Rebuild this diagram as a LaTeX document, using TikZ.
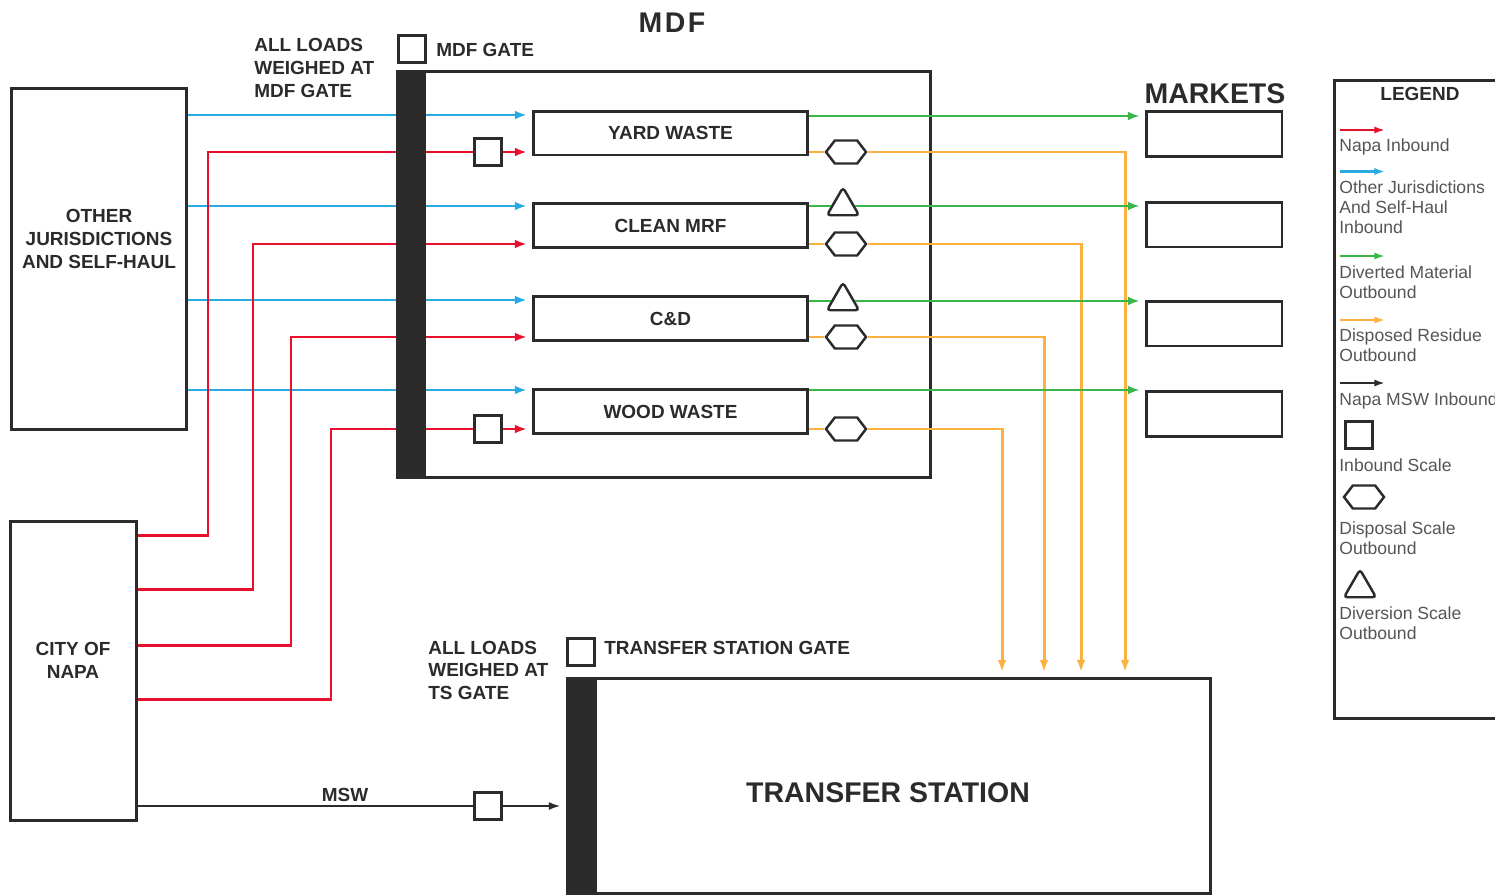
\documentclass[tikz,border=0pt]{standalone}
\usepackage{fontspec}
\setmainfont{Liberation Sans}
\usepackage{tikz}
\usetikzlibrary{arrows.meta,positioning,shapes.geometric,shapes.symbols}

\definecolor{ink}{HTML}{2B2B2B}
\definecolor{napared}{HTML}{E8112D}
\definecolor{otherblue}{HTML}{29ABE2}
\definecolor{divgreen}{HTML}{39B54A}
\definecolor{resorange}{HTML}{FBB040}
\definecolor{keygray}{HTML}{555555}

\newcommand{\lblfont}{\fontsize{10.8}{13}\selectfont\bfseries}
\newcommand{\bigfont}{\fontsize{16.2}{19}\selectfont\bfseries}
\newcommand{\keyfont}{\fontsize{10}{11.5}\selectfont}

\begin{document}
\begin{tikzpicture}[
    x=0.02cm, y=-0.02cm,
    node distance=0.92cm and 0.5cm,
    area/.style={draw=ink, line width=1.7pt, inner sep=0pt},
    facility/.style={draw=ink, line width=1.7pt, fill=white, minimum width=5.5cm, minimum height=0.88cm, inner sep=0pt, font=\lblfont, text=ink},
    market/.style={draw=ink, line width=1.7pt, minimum width=2.72cm, minimum height=0.9cm, inner sep=0pt},
    inscale/.style={draw=ink, line width=1.5pt, fill=white, minimum size=0.54cm, inner sep=0pt},
    outscale/.style={draw=ink, line width=1.4pt, fill=white, signal, signal to=west and east, signal pointer angle=105, minimum width=0.8cm, minimum height=0.46cm, inner sep=0pt},
    divscale/.style={draw=ink, line width=1.4pt, fill=white, regular polygon, regular polygon sides=3, minimum size=0.74cm, inner sep=0pt, rounded corners=2pt},
    lbl/.style={font=\lblfont, text=ink, align=center, inner sep=0pt},
    title/.style={font=\bigfont, text=ink, inner sep=0pt},
    keytext/.style={font=\keyfont, text=keygray, align=left, anchor=north west, inner sep=0pt},
    flow/.style={line width=1.7pt},
    flowtip/.style={-{Latex[length=7pt,width=5pt]}, shorten >=2.5pt},
    napaflow/.style={flow, napared},
    othflow/.style={flow, otherblue},
    divflow/.style={flow, divgreen},
    resflow/.style={flow, resorange},
    mswflow/.style={line width=1.4pt, ink},
    keyarrow/.style={line width=1.5pt, -{Latex[length=6pt,width=4pt]}}
  ]
    \useasboundingbox (0,0) rectangle (1495,896);

    % sources
    \node[area, minimum width=3.52cm, minimum height=6.84cm] (oth) at (99,259) {};
    \node[lbl] (othtxt) at (99,239) {OTHER\\ JURISDICTIONS\\ AND SELF-HAUL};
    \node[area, minimum width=2.52cm, minimum height=5.98cm] (napa) at (73.5,671) {};
    \node[lbl] (napatxt) at (73,660) {CITY OF\\ NAPA};

    % MDF
    \node[title] (mdftitle) at (672,23) {M\kern1.4pt D\kern1.4pt F};
    \node[area, minimum width=10.68cm, minimum height=8.14cm] (mdf) at (664,274.5) {};
    \node[inscale] (mdfgate) at (412,49) {};
    \node[lbl, anchor=west] (mdfgatetxt) at (436,50) {MDF GATE};
    \node[lbl, align=left, anchor=north west] (mdfnote) at (254,38) {ALL LOADS\\ WEIGHED AT\\ MDF GATE};

    \node[facility] (yard) at (670.5,133) {YARD WASTE};
    \node[facility, below=of yard] (mrf) {CLEAN MRF};
    \node[facility, below=of mrf] (cd) {C\&D};
    \node[facility, below=of cd] (wood) {WOOD WASTE};

    \node[inscale] (sqyard) at (488,152) {};
    \node[inscale] (sqwood) at (488,429) {};
    \node[outscale] (hyard) at (846,152) {};
    \node[outscale] (hmrf) at (846,244) {};
    \node[outscale] (hcd) at (846,337) {};
    \node[outscale] (hwood) at (846,429) {};
    \node[divscale] (tmrf) at (843,206) {};
    \node[divscale] (tcd) at (843,301) {};

    % markets
    \node[title] (mkttitle) at (1215,94) {MARKETS};
    \node[market] (mkt1) at (1214,134) {};
    \node[market] (mkt2) at (1214,224.5) {};
    \node[market] (mkt3) at (1214,323.5) {};
    \node[market] (mkt4) at (1214,414) {};

    % transfer station
    \node[area, minimum width=12.88cm, minimum height=4.32cm] (ts) at (889,786) {};
    \node[title] (tstxt) at (888,793) {TRANSFER STATION};
    \node[inscale] (tsgate) at (581,652) {};
    \node[lbl, anchor=west] (tsgatetxt) at (604,648) {TRANSFER STATION GATE};
    \node[lbl, align=left, anchor=north west] (tsnote) at (428,640.5) {ALL LOADS\\ WEIGHED AT\\ TS GATE};
    \node[inscale] (sqmsw) at (488,806) {};
    \node[lbl] (msw) at (345,795) {MSW};

    % inbound
    \foreach \y/\fac in {115/yard, 206/mrf, 300/cd, 390/wood}
      \draw[othflow, flowtip] (oth.east |- 0,\y) -- (\fac.west |- 0,\y);
    \draw[napaflow] (napa.east |- 0,535) -| (208,152) -- (sqyard);
    \draw[napaflow, flowtip] (sqyard) -- (yard.west |- sqyard);
    \draw[napaflow, flowtip] (napa.east |- 0,589) -| (253,244) -- (mrf.west |- 0,244);
    \draw[napaflow, flowtip] (napa.east |- 0,645) -| (291,337) -- (cd.west |- 0,337);
    \draw[napaflow] (napa.east |- 0,699) -| (331,429) -- (sqwood);
    \draw[napaflow, flowtip] (sqwood) -- (wood.west |- sqwood);
    \draw[mswflow] (napa.east |- sqmsw) -- (sqmsw);
    \draw[mswflow, -{Latex[length=7pt,width=4.5pt]}, shorten >=2.5pt] (sqmsw) -- (ts.west |- sqmsw);

    % residue to transfer station
    \foreach \fac/\hx/\xv in {yard/hyard/1125, mrf/hmrf/1081, cd/hcd/1044, wood/hwood/1002} {
      \draw[resflow] (\fac.east |- \hx) -- (\hx);
      \draw[resflow, flowtip] (\hx) -| (ts.north -| \xv,0);
    }

    % diverted to markets
    \draw[divflow, flowtip] (yard.east |- 0,116) -- (mkt1.west |- 0,116);
    \draw[divflow] (mrf.east |- tmrf) -- (tmrf);
    \draw[divflow, flowtip] (tmrf) -- (mkt2.west |- tmrf);
    \draw[divflow] (cd.east |- tcd) -- (tcd);
    \draw[divflow, flowtip] (tcd) -- (mkt3.west |- tcd);
    \draw[divflow, flowtip] (wood.east |- 0,390) -- (mkt4.west |- 0,390);

    % gate bars
    \fill[ink] (mdf.north west) rectangle ++(30,407);
    \fill[ink] (ts.north west) rectangle ++(31,216);

    % legend
    \node[area, minimum width=3.8cm, minimum height=12.76cm, anchor=north west] (legend) at (1333,79) {};
    \node[lbl] (legendtitle) at (1420,94) {LEGEND};
    \foreach \col/\y in {napared/130, otherblue/171.5, divgreen/256, resorange/320, ink/383}
      \draw[keyarrow, \col] (1340,\y) -- ++(45,0);
    \node[keytext] (k1) at (1339,138) {Napa Inbound};
    \node[keytext] (k2) at (1339,180.5) {Other Jurisdictions\\ And Self-Haul\\ Inbound};
    \node[keytext] (k3) at (1339,265.5) {Diverted Material\\ Outbound};
    \node[keytext] (k4) at (1339,328.5) {Disposed Residue\\ Outbound};
    \node[keytext] (k5) at (1339,392.5) {Napa MSW Inbound};
    \node[inscale] (keysq) at (1359,435) {};
    \node[keytext] (k6) at (1339,458.5) {Inbound Scale};
    \node[outscale] (keyhex) at (1364,497) {};
    \node[keytext] (k7) at (1339,521) {Disposal Scale\\ Outbound};
    \node[divscale] (keytri) at (1360,588) {};
    \node[keytext] (k8) at (1339,606) {Diversion Scale\\ Outbound};
  \end{tikzpicture}
\end{document}
